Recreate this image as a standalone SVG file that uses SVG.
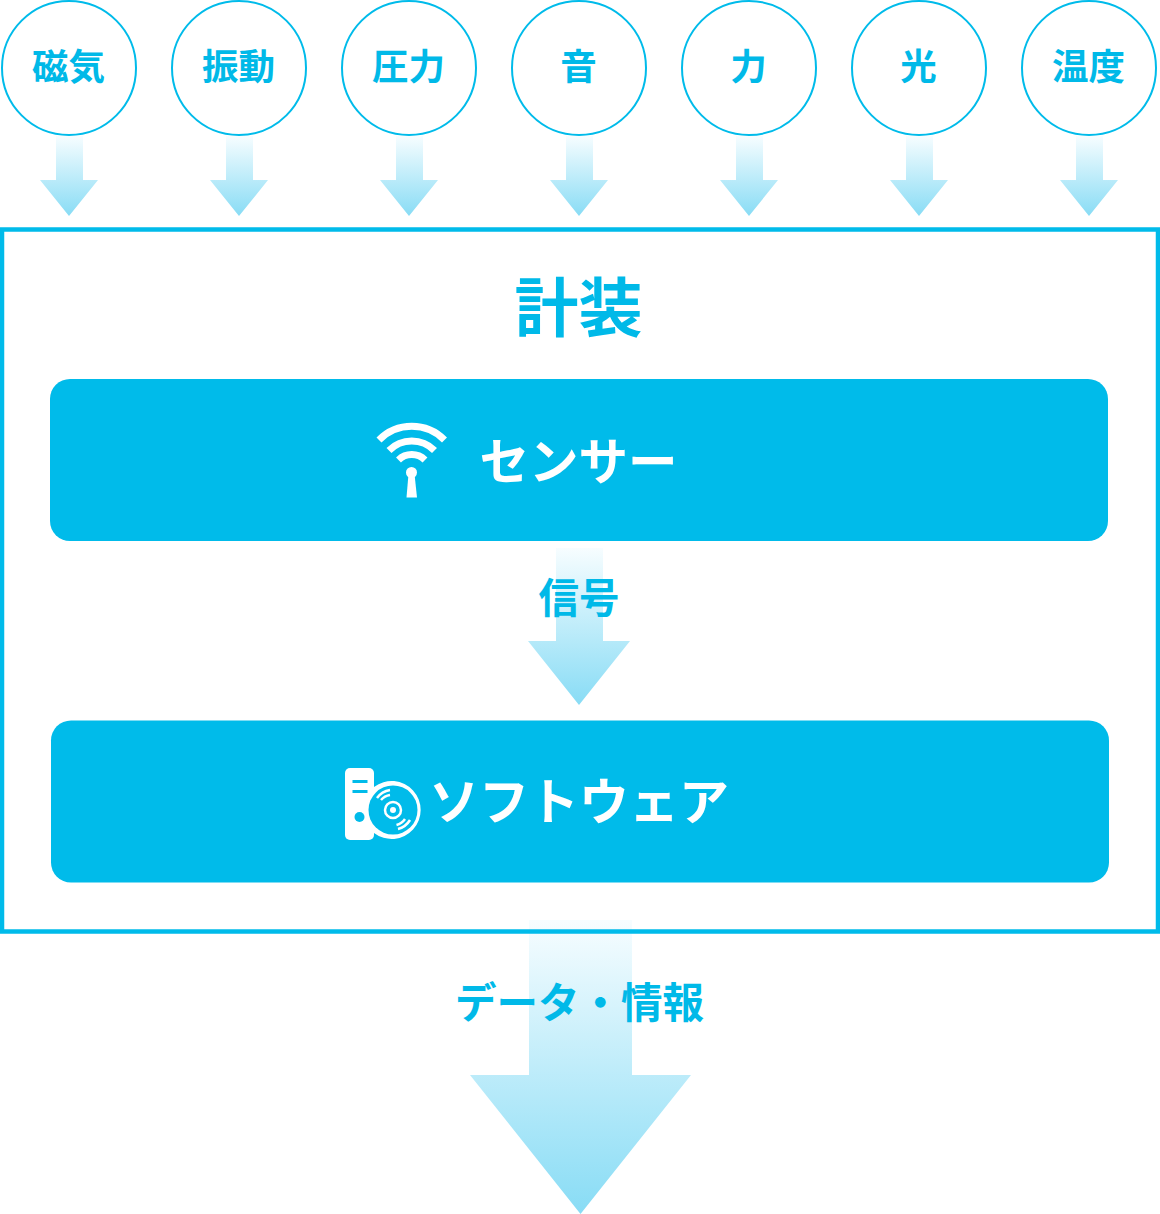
<svg xmlns="http://www.w3.org/2000/svg" width="1160" height="1214" viewBox="0 0 1160 1214">
<style>
text{font-family:"Noto Sans CJK JP","Noto Sans",sans-serif;font-weight:700;text-anchor:middle}
.c{fill:#fff;stroke:#00bbea;stroke-width:2}
.t{fill:#00b9e8;font-size:36px}
.box{fill:#00bbea}
.w{fill:#fff}
.ws{fill:none;stroke:#fff}
.b{fill:#00bbea}
</style>
<defs>
<linearGradient id="g" x1="0" y1="0" x2="0" y2="1"><stop offset="0" stop-color="#f7fdff"/><stop offset="1" stop-color="#88dcf5"/></linearGradient>
<polygon id="a" points="56,136 83,136 83,180 98,180 69,216 40,180 56,180" fill="url(#g)"/>
</defs>
<g id="connectors">
<use href="#a"/><use href="#a" x="170"/><use href="#a" x="340"/><use href="#a" x="510"/><use href="#a" x="680"/><use href="#a" x="850"/><use href="#a" x="1020"/>
<polygon points="529,920 632,920 632,1075 691,1075 580.500,1214 470,1075 529,1075" fill="url(#g)"/>
</g>
<g id="n-frame"><rect x="2" y="229.500" width="1156" height="702" fill="none" stroke="#00bbea" stroke-width="4.500"/>
<text x="578.500" y="331" font-size="64" fill="#00b9e8">計装</text></g>
<g id="n1"><circle class="c" cx="69" cy="68" r="67"/><text class="t" x="68.500" y="80" style="font-size:36.500px">磁気</text></g>
<g id="n2"><circle class="c" cx="239" cy="68" r="67"/><text class="t" x="238.500" y="80" style="font-size:36.500px">振動</text></g>
<g id="n3"><circle class="c" cx="409" cy="68" r="67"/><text class="t" x="408.500" y="80" style="font-size:36.500px">圧力</text></g>
<g id="n4"><circle class="c" cx="579" cy="68" r="67"/><text class="t" x="578.500" y="80" style="font-size:36.500px">音</text></g>
<g id="n5"><circle class="c" cx="749" cy="68" r="67"/><text class="t" x="748.500" y="80" style="font-size:36.500px">力</text></g>
<g id="n6"><circle class="c" cx="919" cy="68" r="67"/><text class="t" x="918.500" y="80" style="font-size:36.500px">光</text></g>
<g id="n7"><circle class="c" cx="1089" cy="68" r="67"/><text class="t" x="1088.500" y="80" style="font-size:36.500px">温度</text></g>
<g id="sensor"><rect class="box" x="50" y="379" width="1058" height="162" rx="20"/>
<g stroke-width="7"><path class="ws" d="M379 440A46 46 0 0 1 444.500 440"/><path class="ws" d="M389 450.500A32 32 0 0 1 434.500 450.500"/><path class="ws" d="M398.500 460A19 19 0 0 1 425 460"/></g>
<circle class="w" cx="411.500" cy="472.500" r="5.500"/><polygon class="w" points="408.500,474 414.500,474 417,497.500 406.500,497.500"/>
<text x="578.500" y="480" font-size="49.500" fill="#fff">センサー</text></g>
<g id="signal"><polygon points="556,548 603,548 603,641 630,641 579,705 528,641 556,641" fill="url(#g)"/>
<text x="579" y="612.500" font-size="40.500" fill="#00b9e8">信号</text></g>
<g id="software"><rect class="box" x="51" y="720.500" width="1058" height="162" rx="20"/>
<rect class="w" x="345" y="768" width="29" height="72" rx="5"/><rect class="b" x="352.500" y="780" width="15" height="3"/><rect class="b" x="352.500" y="790" width="15" height="3"/><circle class="b" cx="359.500" cy="817" r="5"/>
<path class="w" d="M374 787A29 29 0 1 1 374 833Z"/><circle class="b" cx="393" cy="810" r="24.500"/>
<circle class="ws" cx="393" cy="810" r="8" stroke-width="2.500"/><circle class="w" cx="393" cy="810" r="3"/>
<g stroke-width="2.500"><path class="ws" d="M381 800A15 15 0 0 1 390 795"/><path class="ws" d="M377 798A20 20 0 0 1 390 790"/><path class="ws" d="M396.500 825A15 15 0 0 0 405 819"/><path class="ws" d="M398 829A20 20 0 0 0 410 820"/></g>
<text x="579" y="820" font-size="50" fill="#fff">ソフトウェア</text></g>
<g id="data"><text x="579.500" y="1018" font-size="41.500" fill="#00b9e8">データ・情報</text></g>
</svg>
